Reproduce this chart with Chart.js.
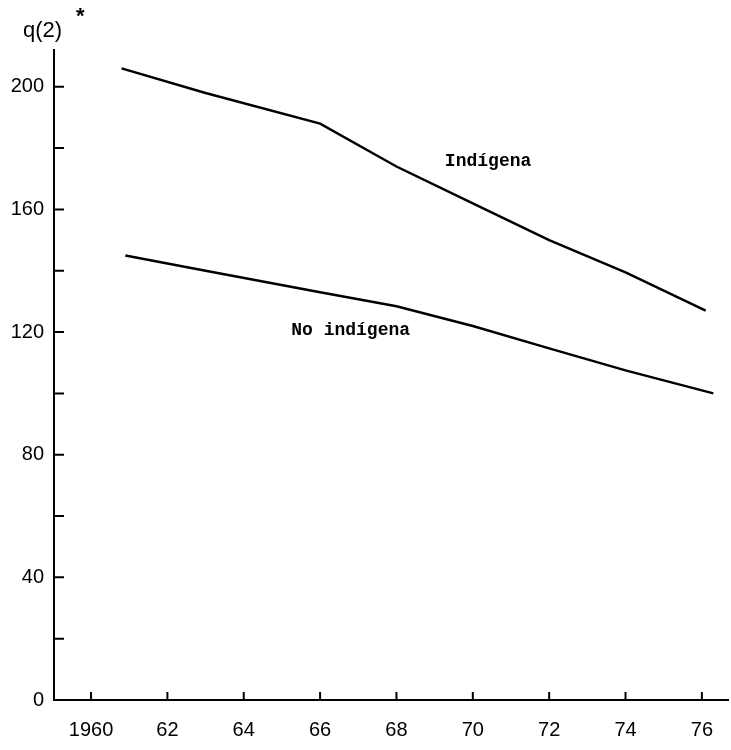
<!DOCTYPE html>
<html>
<head>
<meta charset="utf-8">
<script src="https://cdn.jsdelivr.net/npm/chart.js@4"></script>
<style>
	body { margin: 0; background: #fff; }
	#wrap { width: 731px; height: 750px; }
</style>
</head>
<body>
<div id="wrap"><canvas id="lineChart"></canvas></div>
<script>
// data
const indigenaYears = [1960.8, 1963, 1966, 1968, 1970, 1972, 1974, 1976.1];
const indigenaValues = [206, 198, 188, 174, 162, 150, 139.5, 127];
const noIndigenaYears = [1960.9, 1963, 1966, 1968, 1970, 1972, 1974, 1976.3];
const noIndigenaValues = [145, 140, 133, 128.4, 122, 114.7, 107.5, 100];
const xTickValues = [1960, 1962, 1964, 1966, 1968, 1970, 1972, 1974, 1976];
const yTickValues = [0, 20, 40, 60, 80, 100, 120, 140, 160, 180, 200];
const seriesLabels = ['Indígena', 'No indígena'];
// where the hand-written labels sit, in data units (year, value)
const labelSpots = [[1970.4, 175.5], [1966.8, 120.6]];

const toPoints = (xs, ys) => xs.map((x, i) => ({ x: x, y: ys[i] }));

// inward tick marks + free text labels
const paperPlugin = {
	id: 'paper',
	afterDraw(chart) {
		const ctx = chart.ctx;
		const xs = chart.scales.x;
		const ys = chart.scales.y;
		const area = chart.chartArea;
		ctx.save();
		ctx.strokeStyle = '#000';
		ctx.lineWidth = 2;
		ctx.beginPath();
		yTickValues.forEach(v => {
			if (v === 0) return;
			const py = ys.getPixelForValue(v);
			ctx.moveTo(area.left, py);
			ctx.lineTo(area.left + 10, py);
		});
		xTickValues.forEach(v => {
			const px = xs.getPixelForValue(v);
			ctx.moveTo(px, area.bottom);
			ctx.lineTo(px, area.bottom - 8);
		});
		ctx.stroke();

		ctx.fillStyle = '#000';
		ctx.textBaseline = 'middle';
		ctx.textAlign = 'left';
		ctx.font = '22px "Liberation Sans"';
		ctx.fillText('q(2)', 23, 31);
		ctx.font = 'bold 22px "Liberation Sans"';
		ctx.fillText('*', 76, 17);

		ctx.font = 'bold 18px "Liberation Mono"';
		ctx.textAlign = 'center';
		seriesLabels.forEach((t, i) => {
			const [lx, ly] = labelSpots[i];
			ctx.fillText(t, xs.getPixelForValue(lx), ys.getPixelForValue(ly));
		});
		ctx.restore();
	}
};

const ctx = document.getElementById('lineChart').getContext('2d');
new Chart(ctx, {
	type: 'line',
	data: {
		datasets: [{
			label: seriesLabels[0],
			data: toPoints(indigenaYears, indigenaValues),
			borderColor: '#000',
			borderWidth: 2.5,
			pointRadius: 0,
			fill: false,
			tension: 0
		}, {
			label: seriesLabels[1],
			data: toPoints(noIndigenaYears, noIndigenaValues),
			borderColor: '#000',
			borderWidth: 2.5,
			pointRadius: 0,
			fill: false,
			tension: 0
		}]
	},
	options: {
		responsive: true,
		maintainAspectRatio: false,
		animation: false,
		layout: { padding: { top: 50, right: 0, left: 0, bottom: 0 } },
		plugins: {
			legend: { display: false },
			tooltip: { enabled: false }
		},
		scales: {
			x: {
				type: 'linear',
				min: 1959.03,
				max: 1976.7,
				afterBuildTicks: s => { s.ticks = xTickValues.map(v => ({ value: v })); },
				afterFit: s => { s.height = 50; },
				ticks: {
					padding: 18,
					color: '#000',
					font: { family: 'Liberation Sans', size: 20 },
					callback: v => v === 1960 ? '1960' : String(v % 100)
				},
				grid: { drawOnChartArea: false, drawTicks: false },
				border: { display: true, color: '#000', width: 2 }
			},
			y: {
				min: 0,
				max: 212,
				afterBuildTicks: s => { s.ticks = yTickValues.map(v => ({ value: v })); },
				afterFit: s => { s.width = 54; },
				ticks: {
					padding: 10,
					color: '#000',
					font: { family: 'Liberation Sans', size: 20 },
					callback: v => v % 40 === 0 ? String(v) : ''
				},
				grid: { drawOnChartArea: false, drawTicks: false },
				border: { display: true, color: '#000', width: 2 }
			}
		}
	},
	plugins: [paperPlugin]
});
</script>
</body>
</html>
